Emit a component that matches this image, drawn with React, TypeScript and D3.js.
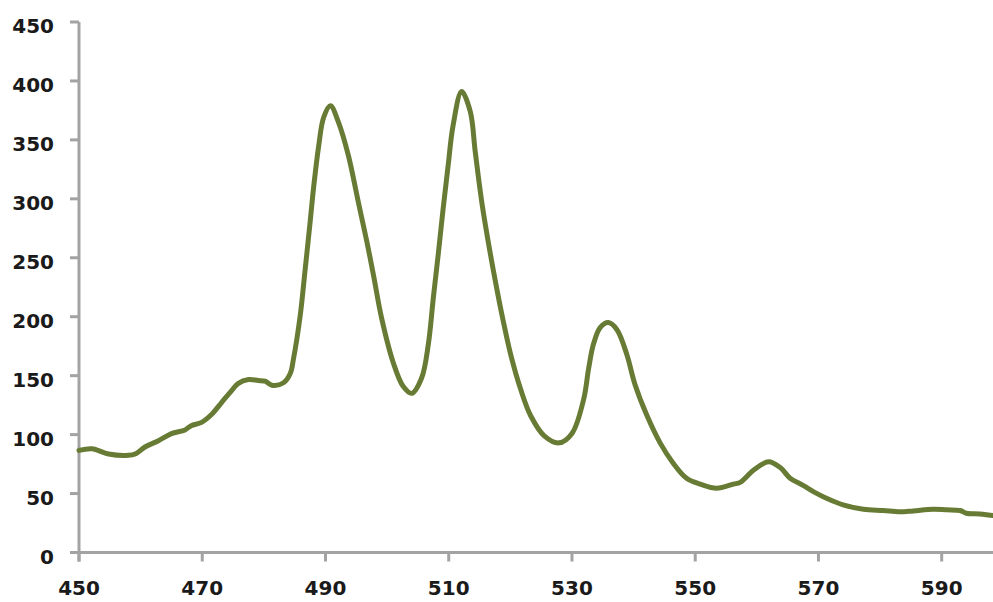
import React from "react";
import * as d3 from "d3";

// Emission spectrum: wavelength (nm) and intensity
const wavelengths = [
  450, 452.1, 454.8, 458, 459.2, 460.7, 462.9, 465, 467.2, 468.2, 469.9, 471.5,
  473.1, 474.8, 475.8, 477.5, 479.1, 480.2, 481.3, 483.2, 484.3, 484.8, 485.9,
  486.7, 487.5, 488.1, 488.9, 489.7, 490.8, 492.1, 493.7, 495.3, 496.7, 497.8,
  499.1, 501, 502.6, 504, 505.6, 506.7, 507.5, 508.3, 509.1, 509.9, 510.7,
  512.1, 513.5, 514.3, 515.4, 516.8, 517.9, 518.7, 520.1, 521.7, 523.3, 525.5,
  527.9, 530, 531.9, 532.7, 533.5, 534.6, 535.9, 537.3, 538.9, 540.2, 542.1,
  544.3, 546.4, 548.6, 550.8, 553.5, 556.2, 557.3, 559.5, 561.9, 563.8, 565.4,
  567.5, 569.4, 571.3, 574, 577.3, 580.5, 583.2, 585.4, 588.6, 590.8, 593, 594,
  596.2, 598.3, 600,
];
const intensities = [
  86.6, 88, 83.5, 82.4, 83.8, 89.5, 94.8, 100.8, 104, 107.6, 110.4, 117,
  127, 137.6, 143.3, 146.7, 145.9, 145.3, 141.9, 144, 152, 164, 201,
  240, 280, 311, 345, 369, 379, 365, 337, 298, 264, 235,
  199, 161, 141, 135, 148, 177, 216, 253, 292, 328, 362,
  391, 374, 340, 296, 252, 221, 200, 167, 138, 116, 99,
  93, 101, 130, 156, 177, 191, 195, 189, 168, 143, 117,
  93, 76, 63, 58, 54.5, 58, 59.5, 70, 77, 72, 63,
  57, 51, 46, 40.4, 36.7, 35.6, 34.5, 35.3, 36.7, 36.2, 35.6, 33.3,
  32.7, 31.3, 31,
];
const yTicks = [0, 50, 100, 150, 200, 250, 300, 350, 400, 450];
const xTicks = [450, 470, 490, 510, 530, 550, 570, 590];

const W = 993;
const H = 602;

export default function App() {
  const x = d3.scaleLinear().domain([450, 590]).range([79, 941.7]);
  const y = d3.scaleLinear().domain([0, 450]).range([552.5, 22]);

  const points: [number, number][] = wavelengths.map((w, i) => [w, intensities[i]]);
  const line = d3
    .line<[number, number]>()
    .x((d) => x(d[0]))
    .y((d) => y(d[1]))
    .curve(d3.curveCatmullRom.alpha(0.5));

  const axisColor = "#a3a3a3";
  const font = "'DejaVu Sans', Verdana, sans-serif";

  return (
    <svg
      width={W}
      height={H}
      viewBox={`0 0 ${W} ${H}`}
      style={{ position: "absolute", left: 0, top: 0, background: "#fff" }}
    >
      {/* y axis */}
      <line x1={x(450)} x2={x(450)} y1={y(450)} y2={y(0) + 9} stroke={axisColor} strokeWidth={3} />
      {yTicks.map((t) => (
        <g key={`y${t}`}>
          <line x1={x(450) - 9} x2={x(450)} y1={y(t)} y2={y(t)} stroke={axisColor} strokeWidth={3} />
          <text
            x={54}
            y={y(t) + 11}
            textAnchor="end"
            fontFamily={font}
            fontWeight="bold"
            fontSize={20}
            fill="#1a1a1a"
          >
            {t}
          </text>
        </g>
      ))}
      {/* x axis */}
      <line x1={x(450) - 9} x2={W} y1={y(0)} y2={y(0)} stroke={axisColor} strokeWidth={3} />
      {xTicks.map((t) => (
        <g key={`x${t}`}>
          <line x1={x(t)} x2={x(t)} y1={y(0)} y2={y(0) + 9} stroke={axisColor} strokeWidth={3} />
          <text
            x={x(t)}
            y={595}
            textAnchor="middle"
            fontFamily={font}
            fontWeight="bold"
            fontSize={20}
            fill="#1a1a1a"
          >
            {t}
          </text>
        </g>
      ))}
      {/* spectrum */}
      <path
        d={line(points) ?? ""}
        fill="none"
        stroke="#687b35"
        strokeWidth={5}
        strokeLinejoin="round"
        strokeLinecap="round"
      />
    </svg>
  );
}
